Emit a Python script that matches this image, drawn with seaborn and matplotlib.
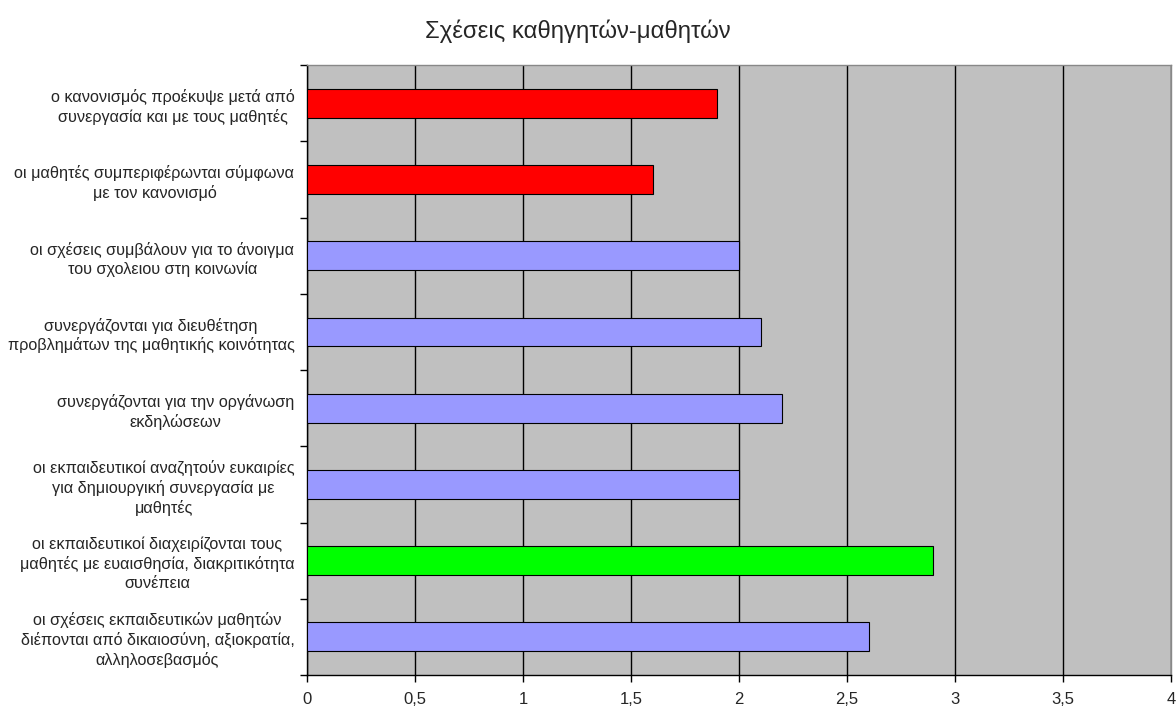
import matplotlib
matplotlib.use("Agg")
import matplotlib.pyplot as plt
import seaborn as sns
import numpy as np

# data
categories = [
    "ο κανονισμός προέκυψε μετά από\nσυνεργασία και με τους μαθητές",
    "οι μαθητές συμπεριφέρωνται σύμφωνα\nμε τον κανονισμό",
    "οι σχέσεις συμβάλουν για το άνοιγμα\nτου σχολειου στη κοινωνία",
    "συνεργάζονται για διευθέτηση\nπροβλημάτων της μαθητικής κοινότητας",
    "συνεργάζονται για την οργάνωση\nεκδηλώσεων",
    "οι εκπαιδευτικοί αναζητούν ευκαιρίες\nγια δημιουργική συνεργασία με\nμαθητές",
    "οι εκπαιδευτικοί διαχειρίζονται τους\nμαθητές με ευαισθησία, διακριτικότητα\nσυνέπεια",
    "οι σχέσεις εκπαιδευτικών μαθητών\nδιέπονται από δικαιοσύνη, αξιοκρατία,\nαλληλοσεβασμός",
]
values = [1.9, 1.6, 2.0, 2.1, 2.2, 2.0, 2.9, 2.6]
bar_colors = ["#FF0000", "#FF0000", "#9999FF", "#9999FF", "#9999FF", "#9999FF", "#00FF00", "#9999FF"]
x_ticks = [0, 0.5, 1, 1.5, 2, 2.5, 3, 3.5, 4]
x_tick_labels = ["0", "0,5", "1", "1,5", "2", "2,5", "3", "3,5", "4"]
title = "Σχέσεις καθηγητών-μαθητών"

sns.set_style("white")
plt.rcParams['font.family'] = ['Liberation Sans', 'DejaVu Sans']

fig = plt.figure(figsize=(11.76, 7.09), dpi=100)
ax = fig.add_axes([0.261, 0.048, 0.7347, 0.860])
ax.set_facecolor("#C0C0C0")

sns.barplot(x=values, y=categories, hue=categories, palette=bar_colors, legend=False,
            orient="h", width=0.38, saturation=1, edgecolor="black", linewidth=0.8,
            ax=ax, zorder=3)

ax.set_xlim(0, 4)
ax.set_ylim(len(categories) - 0.5, -0.5)
ax.set_xticks(x_ticks)
ax.set_xticklabels(x_tick_labels, fontsize=12)
ax.xaxis.grid(True, color="black", linewidth=1)
ax.set_axisbelow(True)

# category labels at centres, tick marks at boundaries (Excel style)
ax.set_yticks(np.arange(len(categories)))
ax.set_yticklabels(categories, fontsize=11.7, ha="right", multialignment="center", linespacing=1.3)
ax.tick_params(axis="y", which="major", length=0, pad=9)
ax.set_yticks(np.arange(len(categories) + 1) - 0.5, minor=True)
ax.tick_params(axis="y", which="minor", length=5, width=1, color="black", direction="out", left=True)
ax.tick_params(axis="x", length=5, width=1, color="black", direction="out", bottom=True, pad=7)

for side in ["left", "bottom"]:
    ax.spines[side].set_color("black")
    ax.spines[side].set_linewidth(1)
for side in ["top", "right"]:
    ax.spines[side].set_color("#888888")
    ax.spines[side].set_linewidth(1)

ax.set_xlabel("")
ax.set_ylabel("")
fig.text(0.4915, 0.956, title, ha="center", va="center", fontsize=17.2)

fig.savefig("out.png", dpi=100)
